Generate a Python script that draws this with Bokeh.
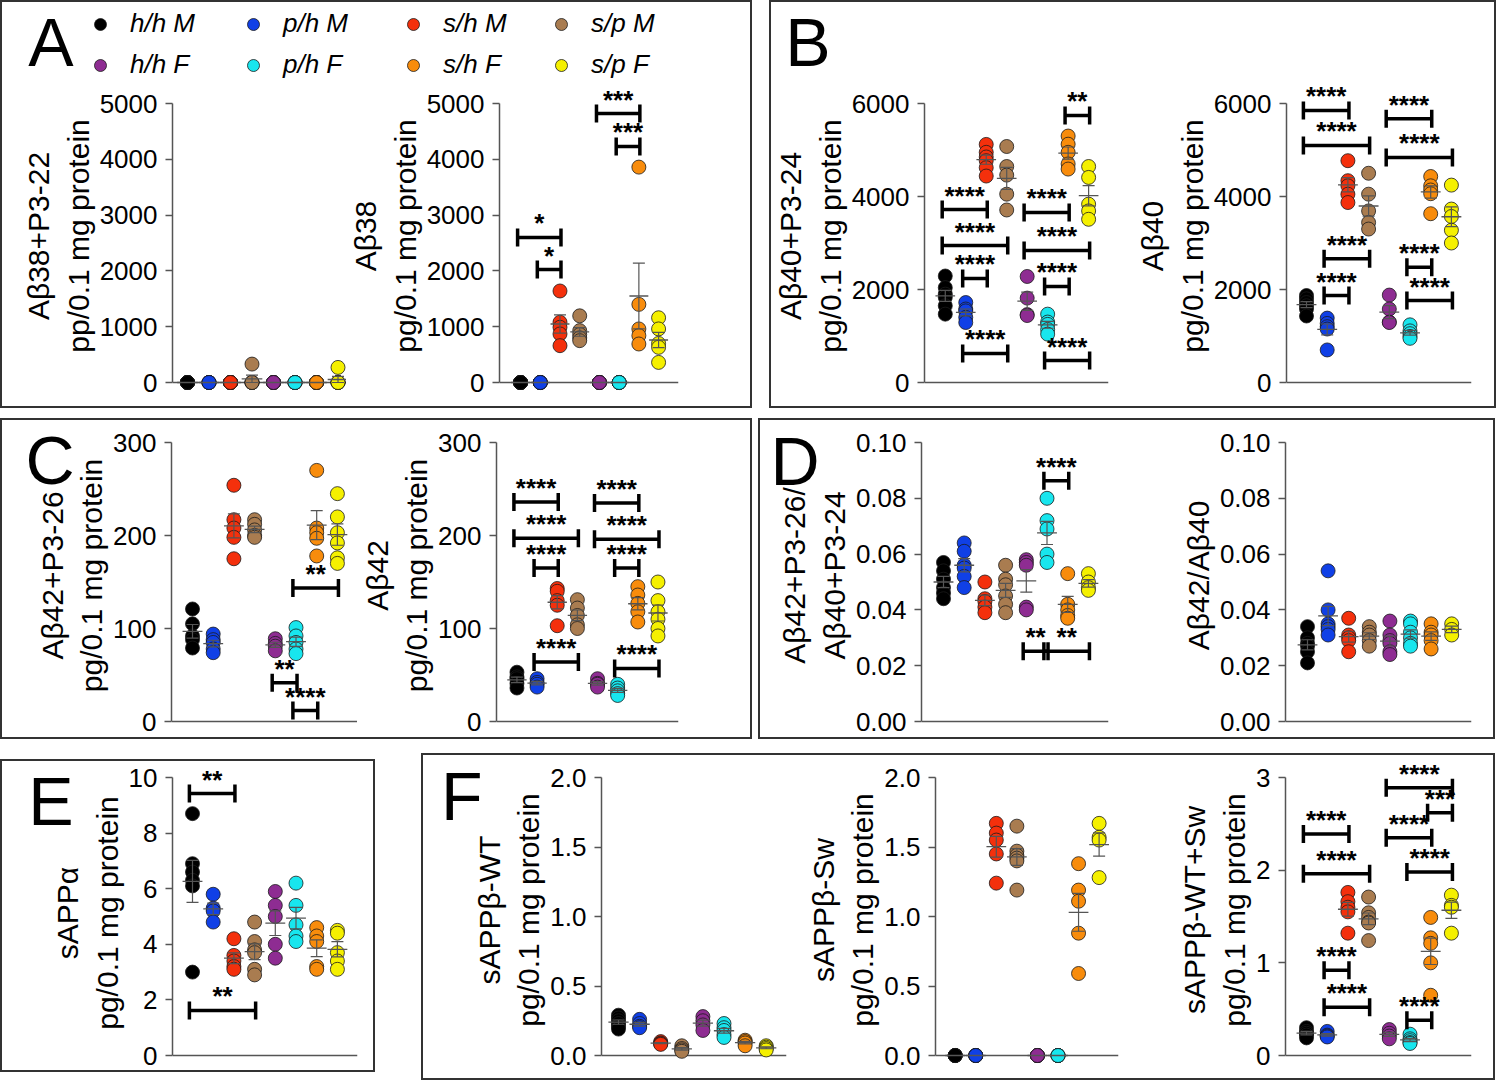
import numpy as np
from bokeh.plotting import figure
from bokeh.models import (Range1d, FixedTicker, NumeralTickFormatter, ColumnDataSource, LinearAxis,
                          Whisker, TeeHead, LabelSet, Span, Legend, LegendItem, Spacer)
from bokeh.layouts import row, column
from bokeh.core.properties import value
from bokeh.embed import file_html
from bokeh.resources import INLINE

FONT = "Liberation Sans"
AXC = "#555555"

groups = ["h/h M", "p/h M", "s/h M", "s/p M", "h/h F", "p/h F", "s/h F", "s/p F"]
colors = ["#000000", "#1040E6", "#F4300C", "#A97C50", "#8E2C92", "#18E6EE", "#F88C0C", "#F5F000"]

# ---------------- data (one list per group, in the order of `groups`) ----------------
ab38_p3_22 = [[0, 0, 0, 0, 0, 0], [0, 0, 0, 0, 0], [0, 0, 0, 0, 0, 0], [330, 0, 0, 0, 0],
              [0, 0, 0, 0, 0], [0, 0, 0, 0, 0], [0, 0, 0, 0, 0], [270, 0, 0, 0, 0]]
ab38 = [[0, 0, 0, 0, 0, 0], [0, 0, 0, 0, 0], [1640, 1080, 990, 870, 660], [1195, 930, 860, 800, 750],
        [0, 0, 0, 0, 0], [0, 0, 0, 0, 0], [3860, 1400, 960, 840, 690], [1160, 960, 700, 630, 360]]
ab38_sig = ([0, 1, 4, 5], [2, 2, 6, 6], [2600, 2025, 4820, 4230], ["*", "*", "***", "***"])

ab40_p3_24 = [[2290, 2040, 1900, 1830, 1650, 1470], [1720, 1580, 1540, 1400, 1290],
              [5120, 4950, 4850, 4770, 4620, 4440], [5075, 4645, 4460, 4050, 3710],
              [2280, 1815, 1460, 1440], [1470, 1300, 1250, 1140, 1040],
              [5300, 5125, 4950, 4700, 4590], [4645, 4410, 3835, 3690, 3510]]
ab40_p3_24_sig = ([0, 0, 1, 1, 4, 4, 5, 5, 6], [2, 3, 2, 3, 6, 7, 6, 7, 7],
                  [3720, 2946, 2237, 624, 3656, 2839, 2065, 473, 5742],
                  ["****"] * 8 + ["**"])
ab40 = [[1870, 1800, 1720, 1650, 1580, 1430], [1385, 1270, 1200, 1150, 700],
        [4770, 4340, 4230, 4050, 3870], [4500, 4050, 3690, 3440, 3300],
        [1880, 1580, 1300, 1290], [1240, 1110, 1050, 990, 950],
        [4430, 4230, 4140, 4060, 3630], [4245, 3730, 3570, 3275, 3000]]
ab40_sig = ([0, 0, 1, 1, 4, 4, 5, 5], [2, 3, 3, 2, 6, 7, 6, 7],
            [5850, 5097, 2660, 1870, 5670, 4840, 2480, 1763], ["****"] * 8)

ab42_p3_26 = [[121, 105, 92, 88, 79], [94, 88, 85, 78, 74], [254, 217, 208, 198, 175],
              [217, 212, 206, 200, 198], [89, 84, 81, 76], [101, 92, 85, 78, 73],
              [270, 208, 203, 197, 178], [245, 220, 203, 192, 176, 170]]
ab42_p3_26_sig = ([5, 4, 5], [7, 5, 6], [143.6, 41.8, 11.8], ["**", "**", "****"])
ab42 = [[53, 48, 46, 41, 36], [46, 42, 40, 37], [143, 140, 130, 125, 103], [131, 122, 114, 104, 100],
        [46, 41, 40, 37], [40, 36, 33, 30, 28], [145, 136, 127, 118, 107], [150, 130, 118, 110, 100, 92]]
ab42_sig = ([0, 0, 1, 1, 4, 4, 5, 5], [2, 3, 2, 3, 6, 7, 6, 7],
            [236, 197, 165, 64, 235, 196, 165, 57], ["****"] * 8)

ratio_p3 = [[0.057, 0.054, 0.051, 0.048, 0.046, 0.044], [0.064, 0.061, 0.056, 0.055, 0.052, 0.048],
            [0.050, 0.044, 0.043, 0.041, 0.039], [0.056, 0.051, 0.049, 0.045, 0.042, 0.039],
            [0.058, 0.057, 0.056, 0.041, 0.040], [0.080, 0.072, 0.069, 0.060, 0.057],
            [0.053, 0.042, 0.040, 0.038, 0.037], [0.053, 0.050, 0.048, 0.047]]
ratio_p3_sig = ([5, 4, 5], [6, 5, 7], [0.0863, 0.0252, 0.0252], ["****", "**", "**"])
ratio = [[0.034, 0.030, 0.028, 0.027, 0.025, 0.021], [0.054, 0.040, 0.035, 0.034, 0.033, 0.031],
         [0.037, 0.031, 0.030, 0.029, 0.025], [0.034, 0.032, 0.031, 0.029, 0.027],
         [0.036, 0.031, 0.029, 0.028, 0.025, 0.024], [0.036, 0.035, 0.032, 0.030, 0.028, 0.027],
         [0.035, 0.032, 0.031, 0.029, 0.026], [0.035, 0.033, 0.031]]

sapp_a = [[8.7, 6.9, 6.6, 6.3, 6.1, 3.0], [5.8, 5.3, 5.2, 4.8], [4.2, 3.6, 3.4, 3.2, 3.1],
          [4.8, 4.1, 3.8, 3.7, 3.1, 2.9], [5.9, 5.4, 5.0, 4.0, 3.5], [6.2, 5.4, 4.7, 4.3, 4.1],
          [4.6, 4.3, 4.1, 3.2, 3.1], [4.5, 4.4, 3.7, 3.4, 3.1]]
sapp_a_sig = ([0, 0], [2, 3], [9.42, 1.62], ["**", "**"])

sapp_b_wt = [[0.29, 0.27, 0.25, 0.23, 0.21, 0.19], [0.26, 0.23, 0.21, 0.20], [0.10, 0.09, 0.085, 0.08],
             [0.07, 0.05, 0.04, 0.03], [0.28, 0.25, 0.22, 0.18], [0.23, 0.20, 0.18, 0.15, 0.13],
             [0.11, 0.10, 0.09, 0.07], [0.07, 0.06, 0.05, 0.04]]
sapp_b_sw = [[0, 0, 0, 0, 0], [0, 0, 0, 0, 0], [1.67, 1.60, 1.55, 1.45, 1.24],
             [1.65, 1.47, 1.44, 1.42, 1.40, 1.19], [0, 0, 0, 0, 0], [0, 0, 0, 0, 0],
             [1.38, 1.19, 1.11, 0.88, 0.59], [1.67, 1.57, 1.55, 1.28]]
sapp_b_tot = [[0.30, 0.26, 0.24, 0.22, 0.19], [0.26, 0.22, 0.21, 0.20], [1.76, 1.66, 1.60, 1.55, 1.32],
              [1.71, 1.54, 1.49, 1.44, 1.43, 1.24], [0.28, 0.24, 0.21, 0.18], [0.23, 0.18, 0.16, 0.14, 0.13],
              [1.49, 1.27, 1.21, 1.00, 0.65], [1.73, 1.62, 1.60, 1.32]]
sapp_b_tot_sig = ([0, 0, 1, 1, 4, 6, 4, 5, 5], [2, 3, 2, 3, 7, 7, 6, 7, 6],
                  [2.39, 1.96, 0.92, 0.52, 2.89, 2.62, 2.35, 1.98, 0.38],
                  ["****"] * 5 + ["***"] + ["****"] * 3)

ticks_a = [0, 1000, 2000, 3000, 4000, 5000]
ticks_b = [0, 2000, 4000, 6000]
ticks_c = [0, 100, 200, 300]
ticks_d = [0, 0.02, 0.04, 0.06, 0.08, 0.10]
ticks_e = [0, 2, 4, 6, 8, 10]
ticks_f = [0, 0.5, 1.0, 1.5, 2.0]
ticks_f3 = [0, 1, 2, 3]


def subplot(vals, ylabel, ticks, fmt, W, H, L, R, B, pt, first, sp, sig=None):
    top = ticks[-1]
    fw = W - L - R
    fh = H - B
    pb = 9
    ppu = (fh - pt - pb) / top
    x0 = -first / sp
    p = figure(width=W, height=H, x_range=Range1d(x0, x0 + fw / sp),
               y_range=Range1d(-pb / ppu, top + pt / ppu),
               toolbar_location=None, output_backend="svg", x_axis_location=None,
               min_border_left=L, min_border_right=R, min_border_top=0, min_border_bottom=B,
               title=None)
    p.grid.visible = False
    p.outline_line_color = None
    ax = p.yaxis[0]
    ax.ticker = FixedTicker(ticks=ticks)
    ax.formatter = NumeralTickFormatter(format=fmt)
    ax.bounds = (0, top)
    ax.axis_label = ylabel
    ax.axis_label_text_font = FONT
    ax.axis_label_text_font_size = "30px"
    ax.axis_label_text_font_style = "normal"
    ax.axis_label_text_color = "black"
    ax.axis_label_standoff = 2
    ax.major_label_text_font = FONT
    ax.major_label_text_font_size = "26px"
    ax.major_label_text_color = "black"
    ax.major_label_standoff = 8
    ax.axis_line_color = AXC
    ax.axis_line_width = 1.5
    ax.major_tick_line_color = AXC
    ax.major_tick_line_width = 1.5
    ax.major_tick_out = 7
    ax.major_tick_in = 0
    ax.minor_tick_line_color = None
    p.add_layout(Span(location=0, dimension="width", line_color=AXC, line_width=1.5, level="underlay"))

    for i, (v, c) in enumerate(zip(vals, colors)):
        src = ColumnDataSource(dict(x=[i] * len(v), y=v))
        p.scatter("x", "y", source=src, size=14, fill_color=c, line_color="#1a1a1a", line_width=0.8)
    idx = list(range(len(vals)))
    means = [float(np.mean(v)) for v in vals]
    sems = [float(np.std(v, ddof=1) / np.sqrt(len(v))) for v in vals]
    ms = ColumnDataSource(dict(x=idx, xa=[i - 0.48 for i in idx], xb=[i + 0.48 for i in idx], m=means,
                               lo=[m - s for m, s in zip(means, sems)], hi=[m + s for m, s in zip(means, sems)]))
    p.segment("xa", "m", "xb", "m", source=ms, line_color=AXC, line_width=1.3)
    p.add_layout(Whisker(source=ms, base="x", lower="lo", upper="hi", dimension="height",
                         line_color=AXC, line_width=1.2, level="overlay",
                         upper_head=TeeHead(size=12, line_color=AXC, line_width=1.2),
                         lower_head=TeeHead(size=12, line_color=AXC, line_width=1.2)))
    if sig is not None:
        bi, bj, by, bt = sig
        lo = [i - 0.15 for i in bi]
        hi = [j + 0.05 for j in bj]
        bs = ColumnDataSource(dict(lo=lo, hi=hi, y=by, xm=[(a + b) / 2 for a, b in zip(lo, hi)], t=bt))
        p.add_layout(Whisker(source=bs, base="y", lower="lo", upper="hi", dimension="width",
                             line_color="black", line_width=3.5, level="overlay",
                             upper_head=TeeHead(size=18, line_color="black", line_width=3.5),
                             lower_head=TeeHead(size=18, line_color="black", line_width=3.5)))
        p.add_layout(LabelSet(source=bs, x="xm", y="y", text="t", text_align="center",
                              text_baseline="alphabetic", text_font=value(FONT), y_offset=5,
                              text_font_size=value("26px"), text_font_style="bold",
                              text_color="black", level="overlay"))
    return p


def letter_axis(p, t, yv, standoff):
    la = LinearAxis(ticker=FixedTicker(ticks=[yv]), major_label_overrides={yv: t},
                    axis_line_color=None, major_tick_line_color=None, minor_tick_line_color=None,
                    major_tick_out=0, major_tick_in=0, major_label_standoff=standoff,
                    major_label_text_font=FONT, major_label_text_font_size="68px",
                    major_label_text_color="black")
    p.add_layout(la, "left")


def header(W, H, ML):
    h = figure(width=W, height=H, x_range=Range1d(0, 1), y_range=Range1d(0, 1),
               toolbar_location=None, output_backend="svg", x_axis_location=None,
               y_axis_location=None, min_border=0, title=None)
    h.min_border_left = ML
    h.min_border_right = h.min_border_top = h.min_border_bottom = 0
    h.grid.visible = False
    h.outline_line_color = None
    return h


PL = "pg/0.1 mg protein"
HDR = 78

# ---------------- panel A ----------------
hA = header(748, HDR, 76)
letter_axis(hA, "A", 0.5, 5)
# legend-only renderers (no visible point: NaN position)
lr = [hA.scatter(x=[np.nan], y=[np.nan], size=14, fill_color=c, line_color="#1a1a1a", line_width=0.8)
      for c in colors]
for k, lx in enumerate([7, 160, 320, 468]):
    lg = Legend(items=[LegendItem(label=groups[k], renderers=[lr[k]], index=0),
                       LegendItem(label=groups[k + 4], renderers=[lr[k + 4]], index=0)],
                location=(lx, 0), orientation="vertical", glyph_width=30, glyph_height=30,
                label_height=30, label_standoff=15, spacing=10, padding=0, margin=0,
                border_line_color=None, background_fill_alpha=0,
                label_text_font=FONT, label_text_font_size="26px", label_text_font_style="italic",
                label_text_color="black")
    hA.add_layout(lg)

SH = 404 - HDR
a1 = subplot(ab38_p3_22, "A\u03b238+P3-22\npp/0.1 mg protein", ticks_a, "0", 344, SH, 170, 0, 15, 23, 15, 21.5)
a2 = subplot(ab38, "A\u03b238\n" + PL, ticks_a, "0", 404, SH, 145, 72, 15, 23, 22, 20.6, ab38_sig)

# ---------------- panel B ----------------
hB = header(723, HDR, 64)
letter_axis(hB, "B", 0.5, 5)
b1 = subplot(ab40_p3_24, "A\u03b240+P3-24\n" + PL, ticks_b, "0", 354, SH, 151, 17, 15, 23, 21, 20.7, ab40_p3_24_sig)
b2 = subplot(ab40, "A\u03b240\n" + PL, ticks_b, "0", 369, SH, 161, 23, 15, 23, 20, 20.7, ab40_sig)

# ---------------- panel C ----------------
c1 = subplot(ab42_p3_26, "A\u03b242+P3-26\n" + PL, ticks_c, "0", 355, 317, 169, 0, 7, 22, 21, 20.7, ab42_p3_26_sig)
c2 = subplot(ab42, "A\u03b242\n" + PL, ticks_c, "0", 393, 317, 134, 72, 7, 22, 21, 20.7, ab42_sig)
letter_axis(c1, "C", 281, -42)

# ---------------- panel D ----------------
d1 = subplot(ratio_p3, "A\u03b242+P3-26/\nA\u03b240+P3-24", ticks_d, "0.00", 390, 317, 161, 42, 7, 22, 22, 20.7, ratio_p3_sig)
d2 = subplot(ratio, "A\u03b242/A\u03b240", ticks_d, "0.00", 343, 317, 135, 22, 7, 22, 22, 20.6)
letter_axis(d1, "D", 0.0935, -44)

# ---------------- panel E ----------------
e1 = subplot(sapp_a, "sAPP\u03b1\n" + PL, ticks_e, "0", 371, 309, 170, 16, 6, 16, 20, 20.7, sapp_a_sig)
letter_axis(e1, "E", 9.14, -26)

# ---------------- panel F ----------------
f1 = subplot(sapp_b_wt, "sAPP\u03b2-WT\n" + PL, ticks_f, "0.0", 380, 323, 178, 17, 14, 22, 17, 21.1)
f2 = subplot(sapp_b_sw, "sAPP\u03b2-Sw\n" + PL, ticks_f, "0.0", 357, 323, 129, 42, 14, 22, 20, 20.9)
f3 = subplot(sapp_b_tot, "sAPP\u03b2-WT+Sw\n" + PL, ticks_f3, "0", 333, 323, 125, 22, 14, 22, 21, 20.7, sapp_b_tot_sig)
letter_axis(f1, "F", 1.87, -13)

BORDER = {"border": "2px solid #333333"}


def boxed(child):
    return column(child, spacing=0, styles=BORDER)


panelA = boxed(column(hA, row(a1, a2, spacing=0), spacing=0))
panelB = boxed(column(hB, row(b1, b2, spacing=0), spacing=0))
panelC = boxed(row(c1, c2, spacing=0))
panelD = boxed(row(d1, d2, spacing=0))
panelE = boxed(e1)
panelF = boxed(row(f1, f2, f3, spacing=0))

layout = column(
    row(panelA, panelB, spacing=17),
    Spacer(height=10, width=10),
    row(panelC, panelD, spacing=6),
    Spacer(height=14, width=10),
    row(column(Spacer(height=6, width=10), panelE, spacing=0), panelF, spacing=46),
    spacing=0,
)

open("out.html", "w").write(file_html(layout, INLINE))
